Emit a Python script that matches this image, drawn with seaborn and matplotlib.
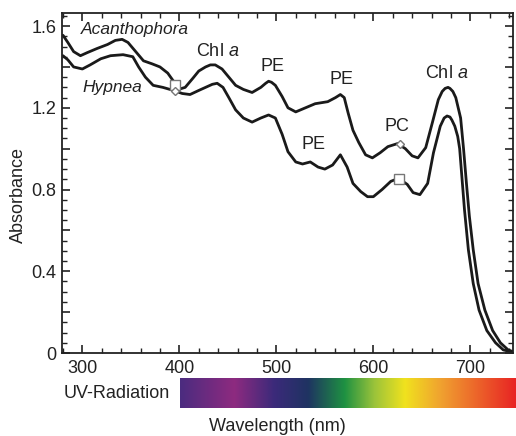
import numpy as np
import pandas as pd
import matplotlib
matplotlib.use("Agg")
import matplotlib.pyplot as plt
from matplotlib.colors import LinearSegmentedColormap
from matplotlib.ticker import MultipleLocator, FuncFormatter
import seaborn as sns

# ---- data ----
acan_nm = [280, 285, 291, 298, 305, 315, 326, 334, 341, 347, 355, 363, 372, 380, 388, 394, 399,
           406, 414, 420, 427, 432, 437, 444, 451, 458, 466, 475, 484, 489, 492, 495, 499, 506,
           512, 520, 530, 540, 553, 561, 566, 570, 574, 579, 585, 592, 599, 607, 615, 625, 633,
           640, 646, 654, 661, 667, 671, 674, 677, 679, 682, 685, 690, 693, 696, 699, 703, 708,
           715, 723, 731, 739, 745]
acan_abs = [1.555, 1.52, 1.475, 1.455, 1.47, 1.49, 1.51, 1.53, 1.535, 1.52, 1.475, 1.43, 1.415,
            1.40, 1.37, 1.33, 1.29, 1.30, 1.345, 1.38, 1.40, 1.41, 1.41, 1.39, 1.35, 1.31, 1.29,
            1.275, 1.30, 1.32, 1.33, 1.325, 1.31, 1.255, 1.20, 1.18, 1.20, 1.22, 1.23, 1.25,
            1.265, 1.25, 1.175, 1.09, 1.03, 0.97, 0.955, 0.98, 1.01, 1.025, 1.00, 0.965, 0.955,
            1.005, 1.13, 1.24, 1.28, 1.295, 1.30, 1.295, 1.28, 1.25, 1.15, 1.00, 0.83, 0.67,
            0.505, 0.34, 0.21, 0.11, 0.05, 0.015, 0.005]

hyp_nm = [280, 285, 291, 300, 308, 319, 329, 342, 352, 358, 365, 373, 383, 394, 403, 411, 420,
          427, 434, 439, 445, 451, 458, 466, 475, 484, 492, 499, 506, 512, 520, 527, 535, 543,
          550, 558, 566, 573, 579, 587, 594, 600, 609, 618, 626, 635, 641, 648, 656, 662, 669,
          673, 676, 679, 681, 684, 687, 689, 691, 694, 698, 703, 709, 717, 726, 734, 745]
hyp_abs = [1.455, 1.435, 1.40, 1.39, 1.41, 1.44, 1.455, 1.46, 1.45, 1.40, 1.35, 1.31, 1.30,
           1.285, 1.27, 1.265, 1.285, 1.30, 1.315, 1.32, 1.30, 1.25, 1.19, 1.15, 1.13, 1.15,
           1.165, 1.15, 1.07, 0.985, 0.935, 0.925, 0.935, 0.91, 0.90, 0.92, 0.97, 0.91, 0.83,
           0.79, 0.765, 0.765, 0.80, 0.84, 0.855, 0.825, 0.785, 0.775, 0.83, 0.98, 1.11, 1.15,
           1.16, 1.155, 1.14, 1.11, 1.06, 1.0, 0.88, 0.70, 0.505, 0.34, 0.21, 0.11, 0.05,
           0.015, 0.003]

square_nm = [396, 626]
square_abs = [1.31, 0.852]
diamond_nm = [396, 627]
diamond_abs = [1.28, 1.025]

peak_labels = ["Chl $\\mathit{a}$", "PE", "PE", "PE", "PC", "Chl $\\mathit{a}$"]
peak_x = [440, 496, 567, 538, 624, 676]
peak_y = [1.475, 1.40, 1.34, 1.02, 1.108, 1.37]

species_labels = ["Acanthophora", "Hypnea"]
species_x = [298, 300]
species_y = [1.583, 1.30]

xticks = [300, 400, 500, 600, 700]

spectrum_colors = ["#4b2c7f", "#8e2a80", "#3b2a7a", "#1f3362", "#1e9142", "#9cc43a",
                   "#f0e21e", "#f0a030", "#e82424"]
spectrum_pos = [0.0, 0.16, 0.28, 0.38, 0.49, 0.58, 0.67, 0.78, 1.0]

# ---- styling ----
sns.set_style("ticks")
plt.rcParams["font.family"] = ["Liberation Sans", "DejaVu Sans"]
plt.rcParams["mathtext.fontset"] = "custom"
plt.rcParams["mathtext.rm"] = "Liberation Sans"
plt.rcParams["mathtext.it"] = "Liberation Sans:italic"

fig = plt.figure(figsize=(5.16, 4.36), dpi=100)
ax = fig.add_axes([62 / 516, 1 - 353 / 436, (513 - 62) / 516, (353 - 13) / 436])

df = pd.concat([
    pd.DataFrame({"Wavelength": acan_nm, "Absorbance": acan_abs, "Species": "Acanthophora"}),
    pd.DataFrame({"Wavelength": hyp_nm, "Absorbance": hyp_abs, "Species": "Hypnea"}),
])
sns.lineplot(data=df, x="Wavelength", y="Absorbance", hue="Species",
             palette={"Acanthophora": "#1a1a1a", "Hypnea": "#1a1a1a"},
             linewidth=2.0, legend=False, ax=ax, sort=False)
for ln in ax.lines:
    ln.set_solid_joinstyle("round")

ax.plot(square_nm, square_abs, linestyle="none", marker="s", markersize=6.5,
        markerfacecolor="white", markeredgecolor="#777777", markeredgewidth=1.0, zorder=5)
ax.plot(diamond_nm, diamond_abs, linestyle="none", marker="D", markersize=4.5,
        markerfacecolor="white", markeredgecolor="#777777", markeredgewidth=1.0, zorder=5)

for lab, x, y in zip(peak_labels, peak_x, peak_y):
    ax.text(x, y, lab, ha="center", va="center", fontsize=13, color="#222222")
for lab, x, y in zip(species_labels, species_x, species_y):
    ax.text(x, y, lab, ha="left", va="center", fontsize=12.5, style="italic", color="#222222")

ax.set_xlim(279, 744)
ax.set_ylim(0, 1.664)
ax.set_xticks(xticks)
ax.xaxis.set_minor_locator(MultipleLocator(20))
ax.yaxis.set_major_locator(MultipleLocator(0.2))
ax.yaxis.set_minor_locator(MultipleLocator(0.05))


def yfmt(v, pos):
    if abs(round(v / 0.4) * 0.4 - v) < 1e-6:
        return "0" if abs(v) < 1e-9 else f"{v:.1f}"
    return ""


ax.yaxis.set_major_formatter(FuncFormatter(yfmt))
ax.tick_params(axis="both", which="both", direction="in", top=True, right=True,
               colors="#222222", labelsize=13, labelcolor="#222222")
ax.tick_params(axis="both", which="major", length=6, width=1.2)
ax.tick_params(axis="both", which="minor", length=3.5, width=1.0)
ax.tick_params(axis="x", which="major", pad=5)
ax.tick_params(axis="y", which="major", pad=4)
ax.set_xlabel("")
ax.set_ylabel("")
for s in ax.spines.values():
    s.set_linewidth(1.3)
    s.set_color("#222222")

fig.text(18 / 516, 1 - 195 / 436, "Absorbance", rotation=90, ha="center", va="center",
         fontsize=13, color="#222222")

# spectrum bar
cax = fig.add_axes([180 / 516, 1 - 408 / 436, (516 - 180) / 516, 30 / 436])
cmap = LinearSegmentedColormap.from_list("spec", list(zip(spectrum_pos, spectrum_colors)))
cax.imshow(np.linspace(0, 1, 512)[None, :], aspect="auto", cmap=cmap, extent=(0, 1, 0, 1))
cax.set_axis_off()

fig.text(170 / 516, 1 - 393 / 436, "UV-Radiation", ha="right", va="center",
         fontsize=13, color="#222222")
fig.text(277 / 516, 1 - 426 / 436, "Wavelength (nm)", ha="center", va="center",
         fontsize=13, color="#222222")

fig.savefig("out.png", dpi=100)
